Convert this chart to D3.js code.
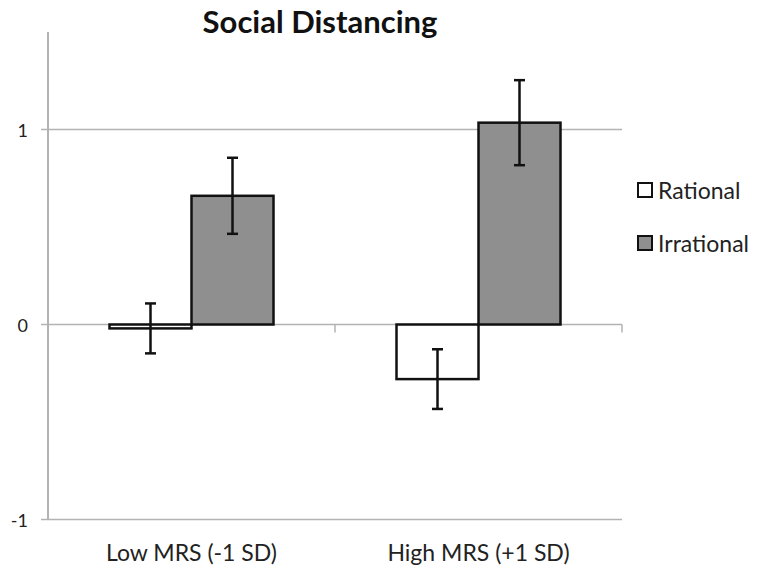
<!DOCTYPE html>
<html><head><meta charset="utf-8">
<script src="https://cdn.jsdelivr.net/npm/d3@7"></script>
<style>body{margin:0;background:#fff}svg{display:block}</style>
</head><body><div id="chart"></div>
<script>
const categories = ["Low MRS (-1 SD)", "High MRS (+1 SD)"];
const seriesNames = ["Rational", "Irrational"];
const rationalValues = [-0.02, -0.28];
const irrationalValues = [0.66, 1.035];
const rationalErrors = [0.128, 0.153];
const irrationalErrors = [0.195, 0.218];
const yTicks = [-1, 0, 1];
const title = "Social Distancing";

const W = 757, H = 569;
const font = "Lato, 'Noto Sans', sans-serif";
const svg = d3.select("#chart").append("svg").attr("width", W).attr("height", H);

const x = d3.scaleBand().domain(categories).range([48, 622]);
const y = d3.scaleLinear().domain([-1, 1.5]).range([519.5, 32]);
const inner = d3.scaleBand().domain(seriesNames).range([0, x.bandwidth()]).paddingOuter(0.75).paddingInner(0);

const fills = {Rational: "#ffffff", Irrational: "#8f8f8f"};
const data = categories.flatMap((c, i) => [
  {cat: c, s: "Rational", v: rationalValues[i], e: rationalErrors[i]},
  {cat: c, s: "Irrational", v: irrationalValues[i], e: irrationalErrors[i]}
]);

// gridlines
svg.append("g").selectAll("line").data(yTicks).join("line")
  .attr("x1", 41).attr("x2", 622)
  .attr("y1", d => y(d)).attr("y2", d => y(d))
  .attr("stroke", "#b3b3b3").attr("stroke-width", 1.5);

// y axis line
svg.append("line").attr("x1", 48).attr("x2", 48).attr("y1", y(1.5)).attr("y2", y(-1))
  .attr("stroke", "#b3b3b3").attr("stroke-width", 2);

// x axis ticks at band boundaries on zero line
const bounds = [x(categories[0]) + x.bandwidth(), x(categories[1]) + x.bandwidth()];
svg.append("g").selectAll("line").data(bounds).join("line")
  .attr("x1", d => d).attr("x2", d => d).attr("y1", y(0)).attr("y2", y(0) + 8)
  .attr("stroke", "#b3b3b3").attr("stroke-width", 1.5);

// y tick labels
svg.append("g").selectAll("text").data(yTicks).join("text")
  .attr("x", 28).attr("y", d => y(d) + 7)
  .attr("text-anchor", "end")
  .attr("font-family", font).attr("font-size", 18).attr("fill", "#222")
  .text(d => d);

// bars
svg.append("g").selectAll("rect").data(data).join("rect")
  .attr("x", d => x(d.cat) + inner(d.s))
  .attr("width", inner.bandwidth())
  .attr("y", d => y(Math.max(0, d.v)))
  .attr("height", d => Math.abs(y(d.v) - y(0)))
  .attr("fill", d => fills[d.s])
  .attr("stroke", "#111").attr("stroke-width", 2.5);

// error bars
const eb = svg.append("g").attr("stroke", "#111").attr("stroke-width", 2.5);
data.forEach(d => {
  const cx = x(d.cat) + inner(d.s) + inner.bandwidth() / 2;
  eb.append("line").attr("x1", cx).attr("x2", cx).attr("y1", y(d.v + d.e)).attr("y2", y(d.v - d.e));
  [d.v + d.e, d.v - d.e].forEach(t => {
    eb.append("line").attr("x1", cx - 5.5).attr("x2", cx + 5.5).attr("y1", y(t)).attr("y2", y(t));
  });
});

// category labels
svg.append("g").selectAll("text").data(categories).join("text")
  .attr("x", d => x(d) + x.bandwidth() / 2).attr("y", 561)
  .attr("text-anchor", "middle")
  .attr("font-family", font).attr("font-size", 23).attr("fill", "#222")
  .text(d => d);

// title
svg.append("text").attr("x", 320).attr("y", 33).attr("text-anchor", "middle")
  .attr("font-family", font).attr("font-weight", "bold").attr("font-size", 31).attr("fill", "#111")
  .text(title);

// legend
const lg = svg.append("g");
seriesNames.forEach((s, i) => {
  const ly = 183 + i * 53;
  lg.append("rect").attr("x", 638).attr("y", ly).attr("width", 14).attr("height", 14)
    .attr("fill", fills[s]).attr("stroke", "#111").attr("stroke-width", 2);
  lg.append("text").attr("x", 658).attr("y", ly + 16)
    .attr("font-family", font).attr("font-size", 23).attr("fill", "#222").text(s);
});
</script></body></html>
